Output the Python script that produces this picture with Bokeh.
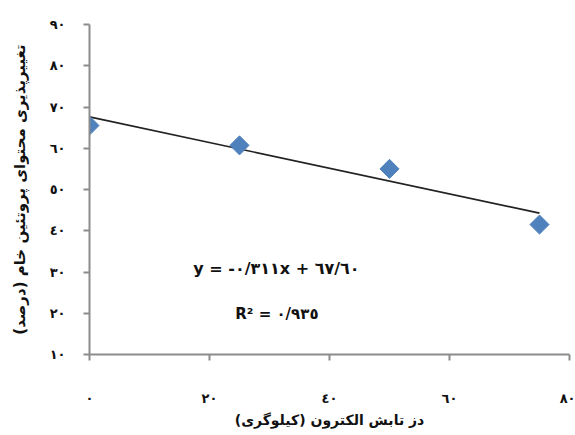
from bokeh.plotting import figure
from bokeh.models import Range1d, FixedTicker, Label, ColumnDataSource
from bokeh.embed import file_html
from bokeh.resources import INLINE
import numpy as np

# data
dose = [0, 25, 50, 75]
protein = [65.5, 60.7, 55.0, 41.5]
slope = -0.311
intercept = 67.60
x_ticks = [0, 20, 40, 60, 80]
x_tick_labels = ["٠", "٢٠", "٤٠", "٦٠", "٨٠"]
y_ticks = [10, 20, 30, 40, 50, 60, 70, 80, 90]
y_tick_labels = ["١٠", "٢٠", "٣٠", "٤٠", "٥٠", "٦٠", "٧٠", "٨٠", "٩٠"]
x_title = "دز تابش الکترون (کیلوگری)"
y_title = "تغییرپذیری محتوای پروتئین خام (درصد)"
eq_text = "y = -٠/٣١١x + ٦٧/٦٠"
r2_text = "R² = ٠/٩٣٥"

FONT = "DejaVu Sans"

p = figure(output_backend="svg", toolbar_location=None,
           frame_width=480, frame_height=330,
           x_range=Range1d(0, 80), y_range=Range1d(10, 90),
           min_border_left=89, min_border_top=24, min_border_right=6,
           min_border_bottom=72)
p.outline_line_color = None
p.xgrid.visible = False
p.ygrid.visible = False
p.background_fill_color = "white"
p.border_fill_color = "white"

for ax in (p.xaxis[0], p.yaxis[0]):
    ax.axis_line_color = "#8c8c8c"
    ax.axis_line_width = 2
    ax.major_tick_line_color = "#8c8c8c"
    ax.major_tick_line_width = 2
    ax.major_tick_out = 6
    ax.major_tick_in = 0
    ax.minor_tick_line_color = None
    ax.major_label_text_font = FONT
    ax.major_label_text_font_style = "bold"
    ax.major_label_text_font_size = "13px"
    ax.major_label_text_color = "#111111"
    ax.axis_label_text_font = FONT
    ax.axis_label_text_font_style = "bold"
    ax.axis_label_text_font_size = "14px"
    ax.axis_label_text_color = "#111111"

p.xaxis.ticker = FixedTicker(ticks=x_ticks)
p.xaxis.major_label_overrides = {t: l for t, l in zip(x_ticks, x_tick_labels)}
p.xaxis.major_label_standoff = 30
p.xaxis.axis_label = x_title
p.xaxis.axis_label_standoff = 3

p.yaxis.ticker = FixedTicker(ticks=y_ticks)
p.yaxis.major_label_overrides = {t: l for t, l in zip(y_ticks, y_tick_labels)}
p.yaxis.major_label_standoff = 18
p.yaxis.axis_label = y_title
p.yaxis.axis_label_text_font_size = "15px"
p.yaxis.axis_label_standoff = 18

# trendline from equation
tx = np.array([min(dose), max(dose)], dtype=float)
ty = slope * tx + intercept
p.line(tx, ty, line_color="#222222", line_width=1.6)

src = ColumnDataSource(dict(x=dose, y=protein))
p.scatter("x", "y", source=src, marker="square", size=13.5, angle=np.pi / 4,
          fill_color="#4f81bd", line_color="#4f81bd", line_width=1)

p.add_layout(Label(x=17.3, y=30.8, text=eq_text, text_font=FONT,
                   text_font_style="bold", text_font_size="16px",
                   text_baseline="middle", text_align="left", text_color="#111111"))
p.add_layout(Label(x=24.3, y=19.9, text=r2_text, text_font=FONT,
                   text_font_style="bold", text_font_size="15px",
                   text_baseline="middle", text_align="left", text_color="#111111"))

open("out.html", "w").write(file_html(p, INLINE))
